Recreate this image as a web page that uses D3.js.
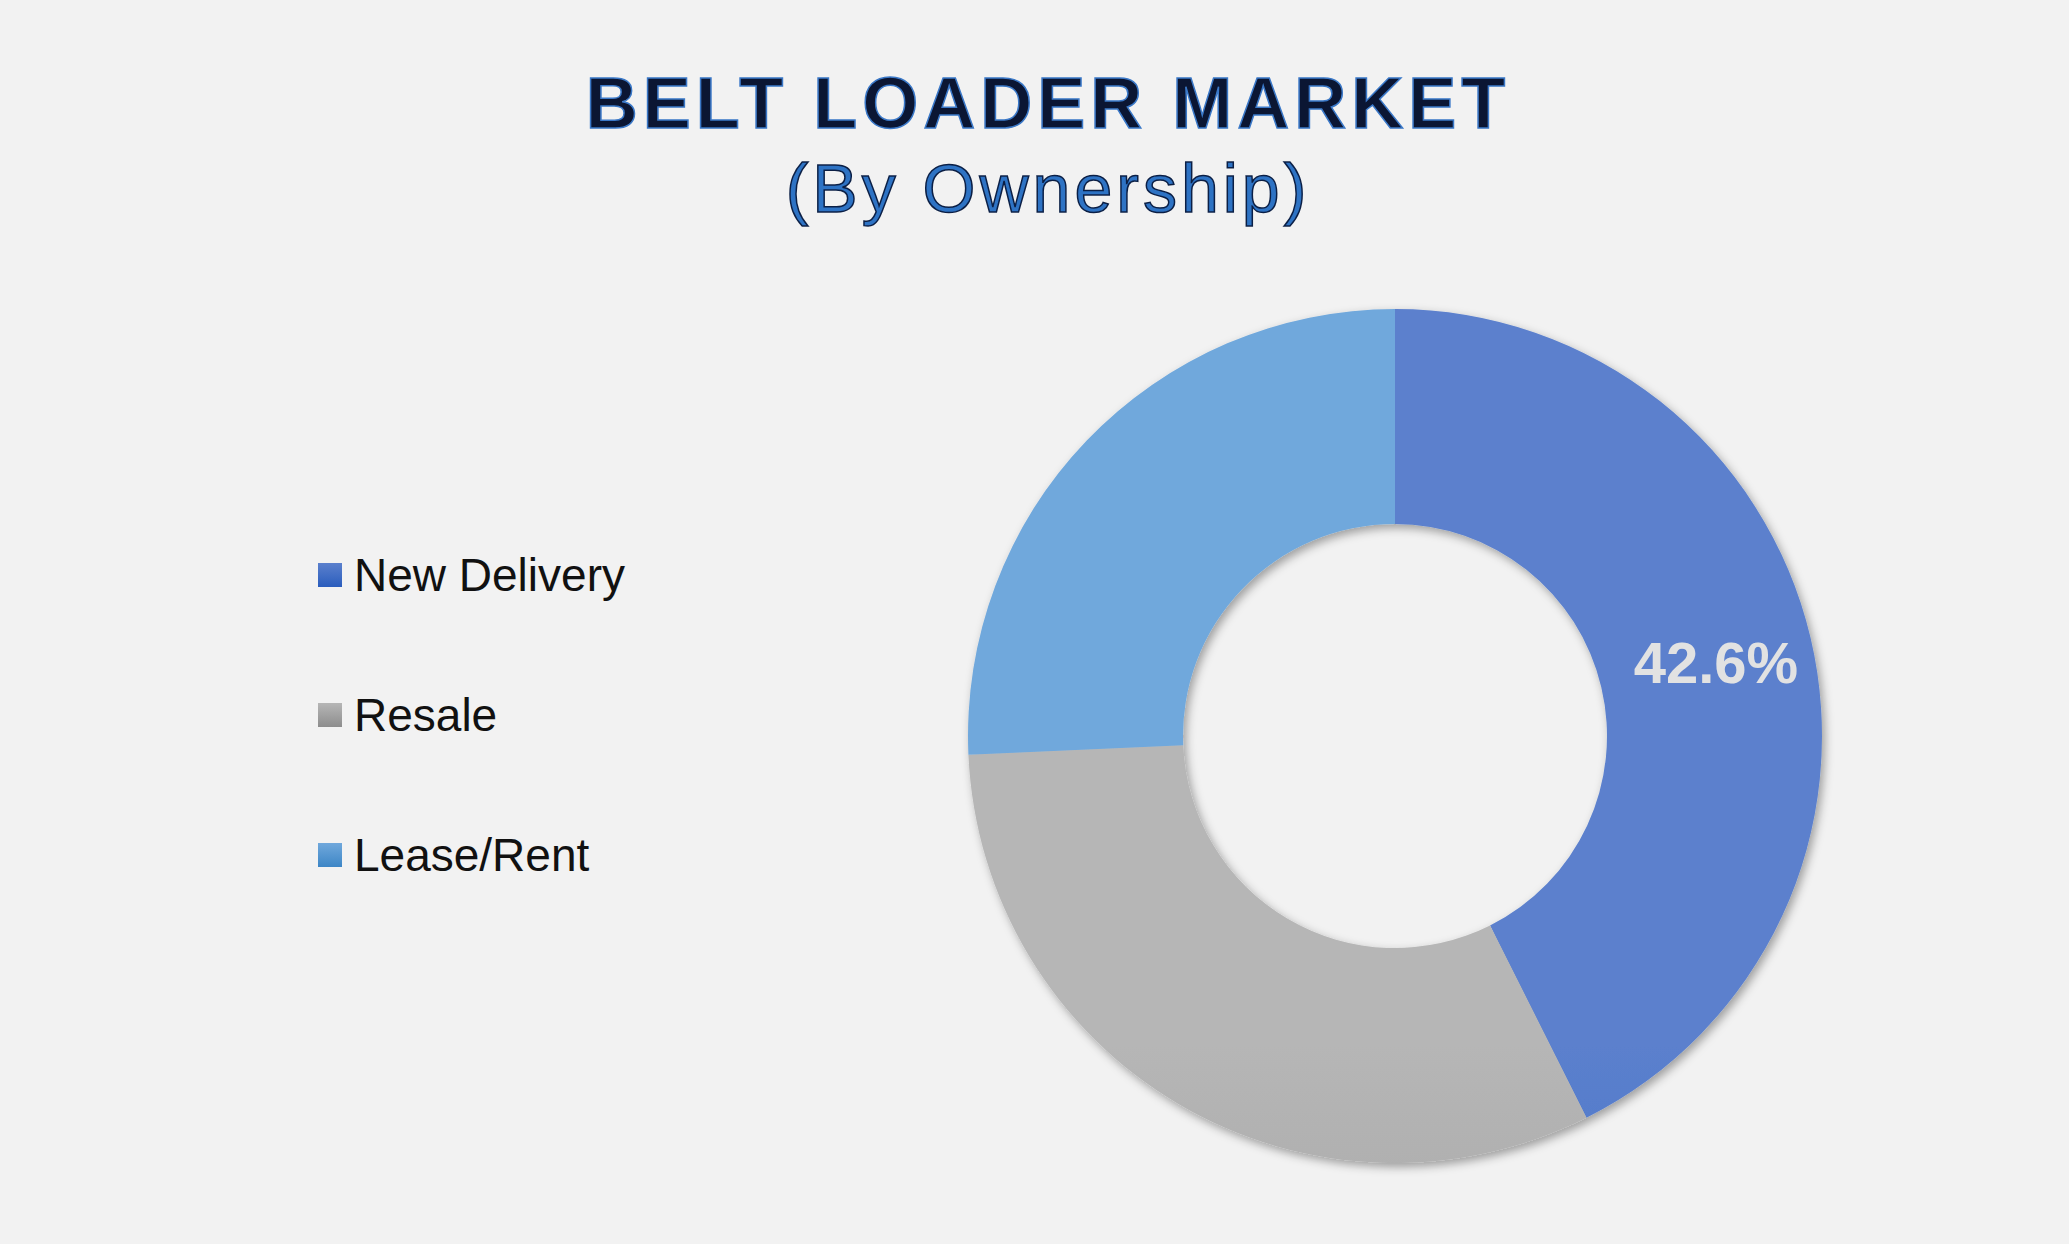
<!DOCTYPE html>
<html>
<head>
<meta charset="utf-8">
<script src="https://cdn.jsdelivr.net/npm/d3@7"></script>
<style>
  body { margin: 0; background: #f2f2f2; }
  svg { display: block; font-family: "Liberation Sans", Arial, sans-serif; }
</style>
</head>
<body>
<svg id="chart"></svg>
<script>
let categories = ["New Delivery", "Resale", "Lease/Rent"];
let shares = [42.6, 31.7, 25.7];
let labels = ["42.6%", "", ""];
let gradTop = ["#5b80cd", "#b6b6b6", "#70a8dc"];
let gradBottom = ["#2a5dbd", "#8d8d8d", "#3d86c6"];

let width = 2069, height = 1244;
let cx = 1395, cy = 736, rOuter = 427, rInner = 212;

let svg = d3.select("#chart").attr("width", width).attr("height", height);
svg.append("rect").attr("width", width).attr("height", height).attr("fill", "#f2f2f2");

let defs = svg.append("defs");
categories.forEach((c, i) => {
  let g = defs.append("linearGradient").attr("id", "g" + i)
    .attr("gradientUnits", "userSpaceOnUse")
    .attr("x1", 0).attr("y1", cy - rOuter).attr("x2", 0).attr("y2", cy + rOuter);
  g.append("stop").attr("offset", "0%").attr("stop-color", gradTop[i]);
  g.append("stop").attr("offset", "100%").attr("stop-color", gradBottom[i]);
});
let f = defs.append("filter").attr("id", "shadow").attr("x", "-20%").attr("y", "-20%").attr("width", "140%").attr("height", "140%");
f.append("feDropShadow").attr("dx", 3).attr("dy", 4).attr("stdDeviation", 5).attr("flood-color", "#000").attr("flood-opacity", 0.35);

// title
svg.append("text").attr("x", 1048).attr("y", 128).attr("text-anchor", "middle")
  .attr("font-size", 72).attr("font-weight", "bold").attr("letter-spacing", 5)
  .attr("fill", "#0b1633").attr("stroke", "#3a78c8").attr("stroke-width", 1.5)
  .text("BELT LOADER MARKET");
svg.append("text").attr("x", 1048).attr("y", 212).attr("text-anchor", "middle")
  .attr("font-size", 68).attr("letter-spacing", 4)
  .attr("fill", "#2e73c4").attr("stroke", "#0b1f45").attr("stroke-width", 1.5)
  .text("(By Ownership)");

let pie = d3.pie().sort(null).value(d => d)(shares);
let arc = d3.arc().innerRadius(rInner).outerRadius(rOuter);

let g = svg.append("g").attr("transform", `translate(${cx},${cy})`).attr("filter", "url(#shadow)");
g.selectAll("path").data(pie).enter().append("path")
  .attr("d", arc)
  .attr("fill", (d, i) => `url(#g${i})`);

let lab = d3.arc().innerRadius(rInner).outerRadius(rOuter);
svg.append("g").attr("transform", `translate(${cx},${cy})`)
  .selectAll("text").data(pie).enter().append("text")
  .attr("x", d => lab.centroid(d)[0] + 10)
  .attr("y", d => lab.centroid(d)[1])
  .attr("dy", "0.35em")
  .attr("text-anchor", "middle")
  .attr("font-size", 58).attr("font-weight", "bold").attr("fill", "#e2e2e2")
  .text((d, i) => labels[i]);

// legend
let leg = svg.append("g");
categories.forEach((c, i) => {
  let y = 575 + i * 140;
  leg.append("rect").attr("x", 318).attr("y", y - 12).attr("width", 24).attr("height", 24)
    .attr("fill", `url(#lg${i})`);
  let lg = defs.append("linearGradient").attr("id", "lg" + i).attr("x1", 0).attr("y1", 0).attr("x2", 0).attr("y2", 1);
  lg.append("stop").attr("offset", "0%").attr("stop-color", gradTop[i]);
  lg.append("stop").attr("offset", "100%").attr("stop-color", gradBottom[i]);
  leg.append("text").attr("x", 354).attr("y", y).attr("dy", "0.35em")
    .attr("font-size", 46).attr("fill", "#111").text(c);
});
</script>
</body>
</html>
